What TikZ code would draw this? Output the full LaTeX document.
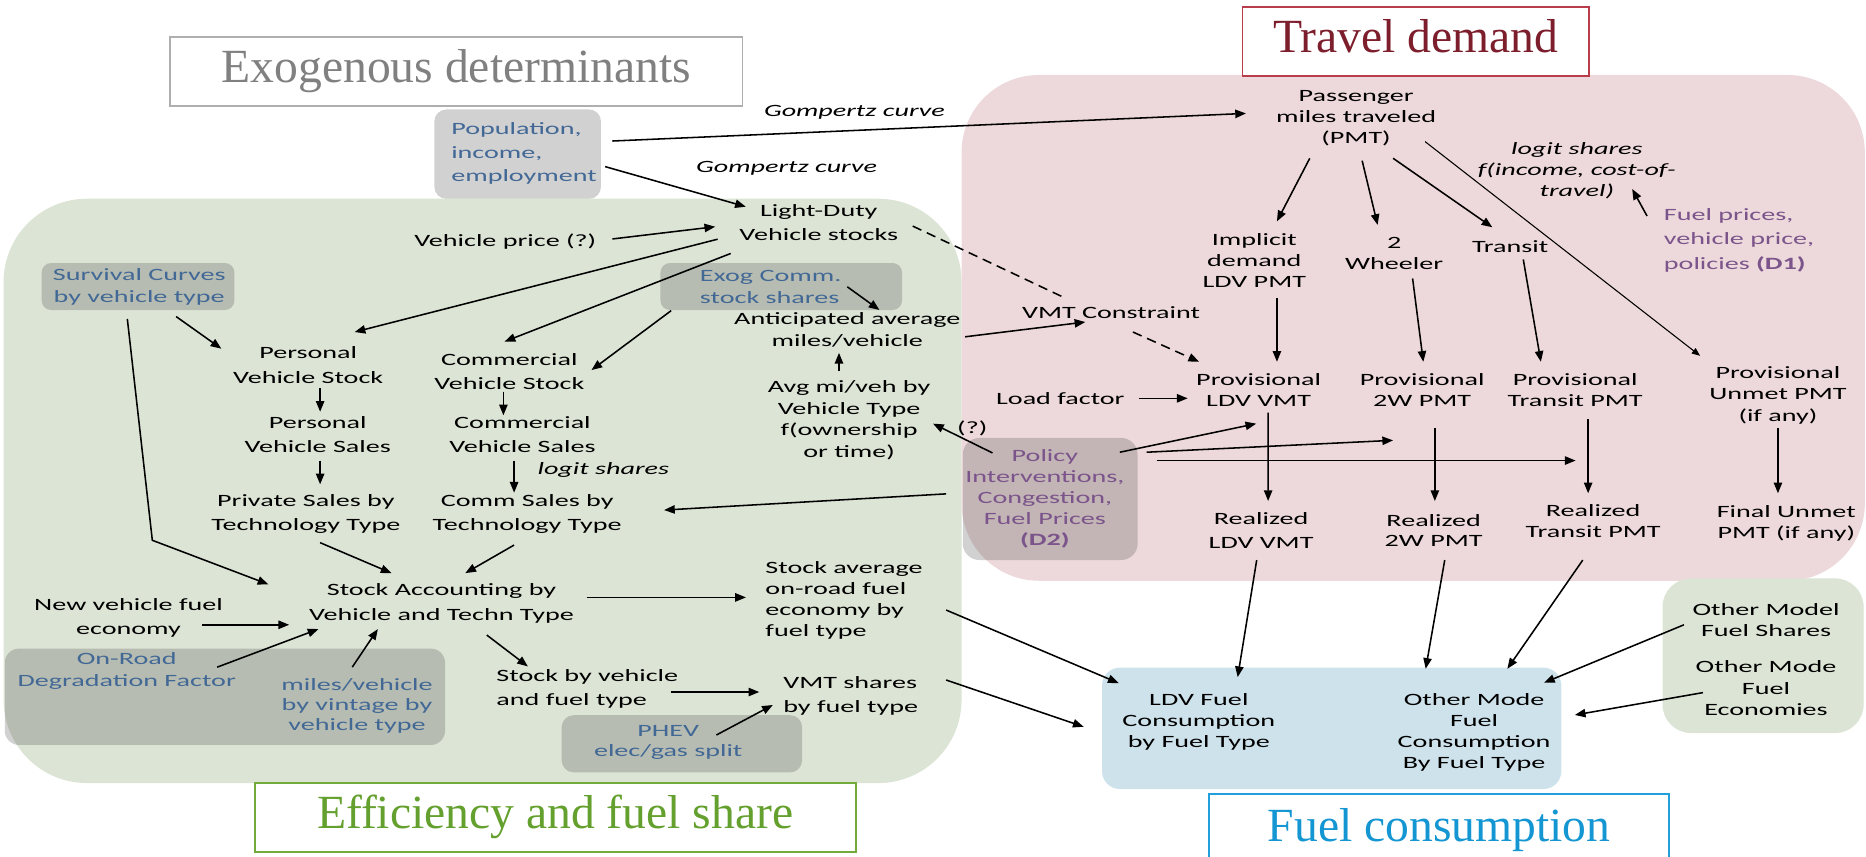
\documentclass[tikz,border=0pt]{standalone}
\usepackage{fontspec}
\setmainfont{Carlito}[FakeStretch=1.63]
\newfontfamily\titlefont{Liberation Serif}
\usetikzlibrary{arrows.meta}
\definecolor{effgreen}{RGB}{220,228,213}
\definecolor{travpink}{RGB}{237,217,219}
\definecolor{fuelbg}{RGB}{206,226,235}
\definecolor{exoblue}{RGB}{66,104,150}
\definecolor{polpurple}{RGB}{122,84,138}
\definecolor{exogray}{RGB}{128,128,128}
\definecolor{exoline}{RGB}{175,175,175}
\definecolor{travred}{RGB}{125,30,45}
\definecolor{travline}{RGB}{185,60,75}
\definecolor{efftext}{RGB}{100,160,45}
\definecolor{effline}{RGB}{115,170,60}
\definecolor{fueltext}{RGB}{20,150,210}
\definecolor{fuelline}{RGB}{35,160,220}

\begin{document}
\begin{tikzpicture}[
    x=1pt, y=-1pt,
    txt/.style={align=center, inner sep=1pt, font=\fontsize{14.5}{#1}\selectfont},
    txt/.default=18,
    lab/.style={align=center, inner sep=1pt, font=\fontsize{14.5}{17.5}\selectfont\itshape},
    exo/.style={text=exoblue},
    pol/.style={text=polpurple},
    title/.style={draw, line width=1.5pt, fill=white, inner sep=0pt, minimum height=58pt,
        text height=27pt, text depth=9pt, font=\titlefont\fontsize{40}{40}\selectfont},
    shade/.style={fill=black!70, fill opacity=0.26},
    arr/.style={-{Triangle[length=9pt,width=7pt]}, line width=1.3pt},
    tarr/.style={-{Triangle[length=7pt,width=5.5pt]}, line width=0.9pt},
    dsh/.style={line width=1.3pt, dash pattern=on 8pt off 5pt}
]
\useasboundingbox (0,0) rectangle (1568,720);

% Regions
\fill[effgreen, rounded corners=70pt] (3,167) rectangle (808,658);
\fill[travpink, rounded corners=65pt] (808,63) rectangle (1567,488);
\fill[fuelbg, rounded corners=15pt] (926,561) rectangle (1312,663);
\fill[effgreen, rounded corners=24pt] (1397,486) rectangle (1566,616);

% Exogenous input boxes
\fill[shade, rounded corners=10pt] (365,92) rectangle (505,167);
\fill[shade, rounded corners=8pt] (35,221) rectangle (197,260.5);
\fill[shade, rounded corners=8pt] (555,221) rectangle (758,260.5);
\fill[shade, rounded corners=12pt] (4,545) rectangle (374,626);
\fill[shade, rounded corners=10pt] (472,601) rectangle (674,649);
\fill[shade, rounded corners=14pt] (809,368) rectangle (956,470.6);

% Titles
\node[title, draw=exoline, text=exogray, minimum width=481pt] (exotitle) at (383.5,60) {Exogenous determinants};
\node[title, draw=travline, text=travred, minimum width=291pt] (travtitle) at (1189.5,35) {Travel demand};
\node[title, draw=effline, text=efftext, minimum width=505pt] (efftitle) at (466.5,687) {Efficiency and fuel share};
\node[title, draw=none, fill=none, text=fueltext, minimum width=385pt, minimum height=52pt,
    text height=30pt, text depth=4pt] (fueltitle) at (1209.2,694) {Fuel consumption};
\draw[fuelline, line width=1.5pt] (fueltitle.south west) |- (fueltitle.north east) -- (fueltitle.south east);

% Efficiency and fuel share
\node[txt=20, exo, align=left, anchor=west] (pop) at (378,129) {Population,\\income,\\employment};
\node[lab] (gomp1) at (718,94) {Gompertz curve};
\node[lab] (gomp2) at (661,141) {Gompertz curve};
\node[txt=19.6] (ldv) at (688,187) {Light-Duty\\Vehicle stocks};
\node[txt] (vprice) at (424.6,203) {Vehicle price (?)};
\node[txt, exo] (surv) at (117,241) {Survival Curves\\by vehicle type};
\node[txt, exo, align=left, anchor=west] (exog) at (587,241) {Exog Comm.\\stock shares};
\node[txt=18.5] (antic) at (712,277.5) {Anticipated average\\miles/vehicle};
\node[txt] (vmtc) at (933.6,263) {VMT Constraint};
\node[txt] (avgmi) at (713.5,353) {Avg mi/veh by\\Vehicle Type\\f(ownership\\or time)};
\node[txt] (qmark) at (817,360) {(?)};
\node[txt=21] (perstock) at (259,306.5) {Personal\\Vehicle Stock};
\node[txt=20] (comstock) at (428,312) {Commercial\\Vehicle Stock};
\node[txt=20] (persales) at (267,365) {Personal\\Vehicle Sales};
\node[txt=20] (comsales) at (439,365) {Commercial\\Vehicle Sales};
\node[lab] (logit1) at (507,395) {logit shares};
\node[txt=20] (privtech) at (257,431.6) {Private Sales by\\Technology Type};
\node[txt=20] (commtech) at (443,431.6) {Comm Sales by\\Technology Type};
\node[txt=20.5] (stockacc) at (371,507) {Stock Accounting by\\Vehicle and Techn Type};
\node[txt=20.5] (newfe) at (108,519) {New vehicle fuel\\economy};
\node[txt=18.7, exo] (onroad) at (106.5,564) {On-Road\\Degradation Factor};
\node[txt=17, exo] (milesveh) at (300,593) {miles/vehicle\\by vintage by\\vehicle type};
\node[txt=17.6, align=left, anchor=west] (stockavg) at (642,504.5) {Stock average\\on-road fuel\\economy by\\fuel type};
\node[txt=20, align=left, anchor=west] (stockveh) at (416,579) {Stock by vehicle\\and fuel type};
\node[txt=20, align=left, anchor=west] (vmtsh) at (657,585) {VMT shares\\by fuel type};
\node[txt=17, exo] (phev) at (561.5,624) {PHEV\\elec/gas split};

% Travel demand
\node[txt] (pmt) at (1139.5,99.3) {Passenger\\miles traveled\\(PMT)};
\node[lab] (logit2) at (1325,143.5) {logit shares\\f(income, cost-of-\\travel)};
\node[txt=20.5, pol, align=left, anchor=west] (fuelpr) at (1397,202) {Fuel prices,\\vehicle price,\\policies \textbf{(D1)}};
\node[txt=17.5] (implicit) at (1054,219) {Implicit\\demand\\LDV PMT};
\node[txt] (twow) at (1171.5,213) {2\\Wheeler};
\node[txt] (transit) at (1269,207) {Transit};
\node[txt] (loadf) at (891,335) {Load factor};
\node[txt=17.7] (provldv) at (1057.6,328) {Provisional\\LDV VMT};
\node[txt=17.7] (prov2w) at (1195,328) {Provisional\\2W PMT};
\node[txt=17.7] (provtr) at (1323.6,328) {Provisional\\Transit PMT};
\node[txt] (provun) at (1494,332) {Provisional\\Unmet PMT\\(if any)};
\node[txt=17.6, pol] (policy) at (878,419) {Policy\\Interventions,\\Congestion,\\Fuel Prices\\\textbf{(D2)}};
\node[txt=20.5] (realldv) at (1059.7,446) {Realized\\LDV VMT};
\node[txt=17] (real2w) at (1204.7,445.5) {Realized\\2W PMT};
\node[txt=17.8] (realtr) at (1338.7,438) {Realized\\Transit PMT};
\node[txt=17.8] (finalun) at (1501,440) {Final Unmet\\PMT (if any)};

% Fuel consumption
\node[txt=17.6] (ldvfuel) at (1007.4,606.7) {LDV Fuel\\Consumption\\by Fuel Type};
\node[txt=17.6] (othfuel) at (1238.7,615.6) {Other Mode\\Fuel\\Consumption\\By Fuel Type};
\node[txt] (othsh) at (1484,521) {Other Model\\Fuel Shares};
\node[txt] (otheco) at (1484,578.5) {Other Mode\\Fuel\\Economies};

% Exogenous links
\draw[arr] ([shift={(136.5,-10.5)}]pop.west) -- ([shift={(-92.5,-4)}]pmt.center);
\draw[arr] ([shift={(130.5,11)}]pop.west) -- ([shift={(-61.3,-13.3)}]ldv.center);
\draw[arr] ([shift={(90,-2.2)}]vprice.center) -- ([shift={(-87,3.5)}]ldv.center);
\draw[arr] ([shift={(-85,14)}]ldv.center) -- ([shift={(39,-27.5)}]perstock.center);
\draw[arr] ([shift={(-74,26)}]ldv.center) -- ([shift={(-4,-25)}]comstock.center);
\draw[arr] ([shift={(-23,20)}]exog.west) -- ([shift={(69,-1)}]comstock.center);
\draw[arr] ([shift={(125,0)}]exog.west) -- ([shift={(27,-17)}]antic.center);
\draw[arr] ([shift={(99,5.5)}]antic.center) -- ([shift={(-21.6,7.6)}]vmtc.center);
\draw[dsh] ([shift={(79,3)}]ldv.center) -- ([shift={(-40.6,-13.5)}]vmtc.center);
\draw[arr, dsh] ([shift={(18.4,16)}]vmtc.center) -- ([shift={(-50,-24)}]provldv.center);
\draw[arr] ([shift={(-8.5,-41.5)}]avgmi.center) -- ([shift={(-7,19)}]antic.center);
\draw[arr] ([shift={(-44,-38.4)}]policy.center) -- ([shift={(70.5,3)}]avgmi.center);

% Stocks, sales and stock accounting
\draw[arr] ([shift={(10,19.5)}]perstock.center) -- ([shift={(2,-19)}]persales.center);
\draw[arr] ([shift={(-5,17)}]comstock.center) -- ([shift={(-16,-16)}]comsales.center);
\draw[arr] ([shift={(2,22)}]persales.center) -- ([shift={(12,-24.6)}]privtech.center);
\draw[arr] ([shift={(-7,22)}]comsales.center) -- ([shift={(-11,-17.6)}]commtech.center);
\draw[arr] ([shift={(-83,-4)}]policy.center) -- ([shift={(115,-3)}]commtech.center);
\draw[arr] ([shift={(12,24.4)}]privtech.center) -- ([shift={(-42,-25.4)}]stockacc.center);
\draw[arr] ([shift={(-11,26.4)}]commtech.center) -- ([shift={(20,-25.4)}]stockacc.center);
\draw[arr] ([shift={(-10,27)}]surv.center) -- ++(21,186) -- ([shift={(-145.5,-16)}]stockacc.center);
\draw[arr] ([shift={(31,25)}]surv.center) -- ([shift={(-73,-13.5)}]perstock.center);
\draw[arr] ([shift={(62,6)}]newfe.center) -- ([shift={(-128,18)}]stockacc.center);
\draw[arr] ([shift={(76,-3.4)}]onroad.center) -- ([shift={(-103.4,21.6)}]stockacc.center);
\draw[arr] ([shift={(-4,-32.4)}]milesveh.center) -- ([shift={(-53.5,21.6)}]stockacc.center);
\draw[arr] ([shift={(122,-5)}]stockacc.center) -- ([shift={(-15.2,-2.5)}]stockavg.west);
\draw[arr] ([shift={(38,26.6)}]stockacc.center) -- ([shift={(27.6,-19)}]stockveh.west);
\draw[arr] ([shift={(147.5,2.5)}]stockveh.west) -- ([shift={(-19,-3.5)}]vmtsh.west);
\draw[arr] ([shift={(40.5,-6.4)}]phev.center) -- ([shift={(-7.6,7.4)}]vmtsh.west);
\draw[arr] ([shift={(153,8.1)}]stockavg.west) -- ([shift={(-67.4,-32.7)}]ldvfuel.center);
\draw[arr] ([shift={(138,-13.6)}]vmtsh.west) -- ([shift={(-96.8,4)}]ldvfuel.center);

% Mode split and VMT
\draw[arr] ([shift={(-38.9,33.7)}]pmt.center) -- ([shift={(19,-33)}]implicit.center);
\draw[arr] ([shift={(5.1,35.7)}]pmt.center) -- ([shift={(-13.9,-24)}]twow.center);
\draw[arr] ([shift={(31.1,33.7)}]pmt.center) -- ([shift={(-15,-16)}]transit.center);
\draw[tarr] ([shift={(58,19.7)}]pmt.center) -- ([shift={(-65.4,-33)}]provun.center);
\draw[arr] ([shift={(-13,-20.5)}]fuelpr.west) -- ([shift={(46.5,15.3)}]logit2.center);
\draw[arr] ([shift={(19,31)}]implicit.center) -- ([shift={(15.4,-24)}]provldv.center);
\draw[arr] ([shift={(15.5,21)}]twow.center) -- ([shift={(1,-24)}]prov2w.center);
\draw[arr] ([shift={(11,11)}]transit.center) -- ([shift={(-28.8,-24)}]provtr.center);
\draw[arr] ([shift={(66,-0.3)}]loadf.center) -- ([shift={(-59.6,6.7)}]provldv.center);
\draw[arr] ([shift={(63,-39)}]policy.center) -- ([shift={(-2,28)}]provldv.center);
\draw[arr] ([shift={(85.5,-39)}]policy.center) -- ([shift={(-24.4,42)}]prov2w.center);
\draw[arr] ([shift={(94,-32)}]policy.center) -- ([shift={(-14.7,-51)}]realtr.center);
\draw[arr] ([shift={(8,18.8)}]provldv.center) -- ([shift={(5.9,-25)}]realldv.center);
\draw[arr] ([shift={(10.7,31.7)}]prov2w.center) -- ([shift={(1,-24.5)}]real2w.center);
\draw[arr] ([shift={(10.9,24)}]provtr.center) -- ([shift={(-4.2,-23.5)}]realtr.center);
\draw[arr] ([shift={(0,27.7)}]provun.center) -- ([shift={(-7,-25.5)}]finalun.center);

% Fuel use
\draw[arr] ([shift={(-3.7,24.6)}]realldv.center) -- ([shift={(32.6,-37.7)}]ldvfuel.center);
\draw[arr] ([shift={(9.3,25.1)}]real2w.center) -- ([shift={(-40.7,-53.6)}]othfuel.center);
\draw[arr] ([shift={(-8.7,32.6)}]realtr.center) -- ([shift={(27.9,-53.6)}]othfuel.center);
\draw[arr] ([shift={(-69,4)}]othsh.center) -- ([shift={(58.7,-41.9)}]othfuel.center);
\draw[arr] ([shift={(-53,3.5)}]otheco.center) -- ([shift={(84.6,-14.8)}]othfuel.center);
\end{tikzpicture}
\end{document}
